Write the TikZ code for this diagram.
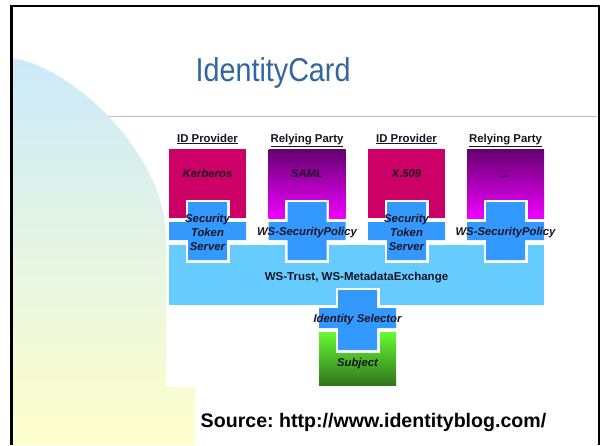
\documentclass[tikz,border=0pt]{standalone}
\usepackage{fontspec}
\setmainfont{Liberation Sans}
\newfontfamily\narrowsans[FakeStretch=0.87]{Liberation Sans}
\frenchspacing
\definecolor{titleblue}{RGB}{51,102,160}
\definecolor{idpink}{RGB}{204,0,102}
\definecolor{rpdark}{RGB}{100,0,110}
\definecolor{rplight}{RGB}{240,0,255}
\definecolor{crossblue}{RGB}{51,153,255}
\definecolor{barblue}{RGB}{102,204,255}
\definecolor{rulegray}{RGB}{190,190,190}
\definecolor{fadeblue}{RGB}{204,234,250}
\definecolor{fadeyellow}{RGB}{255,255,204}
\definecolor{subjtop}{RGB}{102,250,51}
\definecolor{subjbot}{RGB}{48,118,28}
\definecolor{inktext}{RGB}{25,20,35}
\tikzset{
  % blue plus: vertical bar of half-width 19.5 crossing a horizontal band
  pics/plusshape/.style n args={5}{code={
    \path[preaction={draw=white,line width=5pt,line join=miter}, fill=crossblue]
      (-19.5,#1) -- (19.5,#1) -- (19.5,#2) -- (#5,#2) -- (#5,#3) -- (19.5,#3)
      -- (19.5,#4) -- (-19.5,#4) -- (-19.5,#3) -- (-#5,#3) -- (-#5,#2)
      -- (-19.5,#2) -- cycle;
  }},
  hdr/.style={anchor=base, inner sep=0pt, text=inktext,
    font=\bfseries\fontsize{11.4}{13}\selectfont},
  boxtext/.style={anchor=base, inner sep=0pt, text=inktext,
    font=\bfseries\itshape\fontsize{11.3}{14}\selectfont},
  bartext/.style={anchor=base, inner sep=0pt, text=inktext,
    font=\bfseries\fontsize{11.5}{14}\selectfont},
}
\begin{document}
\begin{tikzpicture}[x=1pt,y=-1pt]
\useasboundingbox (0,0) rectangle (600,445);
\fill[white] (0,0) rectangle (600,445);

% separator rule under the title
\draw[rulegray, line width=1pt] (100,116) -- (597,116);

% soft decorative panel on the left
\shade[top color=fadeblue, bottom color=fadeyellow]
  (12,58) .. controls (70,66) and (163,150) .. (166,235)
  -- (166,387) -- (195,387) -- (195,445) -- (12,445) -- cycle;

% title
\node[anchor=base west, inner sep=0pt, text=titleblue,
  font=\narrowsans\fontsize{33}{36}\selectfont] (title) at (195.5,81) {IdentityCard};

% column headers
\node[hdr] (h1) at (207.5,142) {\underline{ID Provider}};
\node[hdr] (h2) at (307,142) {\underline{Relying Party}};
\node[hdr] (h3) at (406.5,142) {\underline{ID Provider}};
\node[hdr] (h4) at (505.5,142) {\underline{Relying Party}};

% top boxes
\fill[idpink] (169,149) rectangle (246,218);
\shade[top color=rpdark, bottom color=rplight] (268.5,149) rectangle (345.5,218);
\fill[idpink] (368,149) rectangle (445,218);
\shade[top color=rpdark, bottom color=rplight] (467,149) rectangle (544,218);

% shared protocol bar
\fill[barblue] (169,245) rectangle (544,305);

% subject box
\shade[top color=subjtop, bottom color=subjbot] (319,332) rectangle (396,385);

% blue plus shapes
\pic at (207.5,0) {plusshape={202}{222}{240}{260}{38.5}};
\pic at (307,0) {plusshape={202}{222}{240}{260}{38.5}};
\pic at (406.5,0) {plusshape={202}{222}{240}{260}{38.5}};
\pic at (505.5,0) {plusshape={202}{222}{240}{260}{38.5}};
\pic at (357.5,0) {plusshape={290}{308}{328}{350}{38.5}};

% box labels
\node[boxtext] (kerb) at (207.5,177) {Kerberos};
\node[boxtext] (saml) at (307,177) {SAML};
\node[boxtext] (x509) at (406.5,177) {X.509};
\node[boxtext] (more) at (505.5,177) {...};

\node[boxtext, anchor=center, align=center] (sts1) at (207.5,232) {Security\\Token\\Server};
\node[boxtext, anchor=center, align=center] (sts2) at (406.5,232) {Security\\Token\\Server};
\node[boxtext] (pol1) at (307,235) {WS-SecurityPolicy};
\node[boxtext] (pol2) at (505.5,235) {WS-SecurityPolicy};

\node[bartext] (trust) at (356.5,280) {WS-Trust, WS-MetadataExchange};
\node[boxtext] (idsel) at (357.5,322.5) {Identity Selector};
\node[boxtext] (subj) at (357.5,366) {Subject};

% source line
\node[anchor=base, inner sep=0pt, font=\bfseries\fontsize{19.6}{22}\selectfont] (src)
  at (373.5,427) {Source: http://www.identityblog.com/};

% frame
\fill[black] (10,5) rectangle (13,445);
\fill[black] (10,5) rectangle (599.5,7);
\fill[black] (597.5,5) rectangle (599.5,445);
\end{tikzpicture}
\end{document}
